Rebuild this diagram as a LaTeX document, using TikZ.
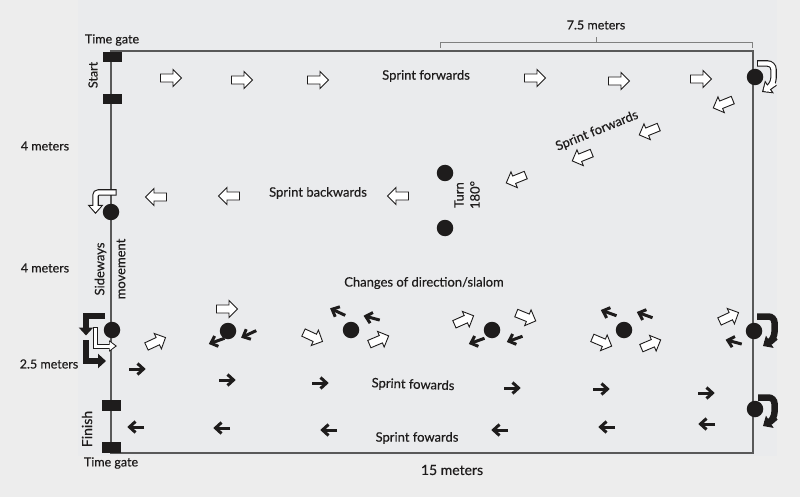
\documentclass[tikz,border=0pt]{standalone}
\usepackage{fontspec}
\setmainfont[FakeBold=0.35]{Lato}
\usetikzlibrary{arrows.meta}
\definecolor{bgout}{RGB}{237,237,237}
\definecolor{bgin}{RGB}{234,235,237}
\definecolor{ink}{RGB}{30,28,28}
\begin{document}
\begin{tikzpicture}[x=1pt,y=-1pt,
  lbl/.style={font=\fontsize{12.5}{15}\selectfont, text=ink, inner sep=0},
  cone/.style={circle, fill=ink, minimum size=16.5, inner sep=0},
  gate/.style={fill=ink, minimum width=19, minimum height=10.5, inner sep=0},
  frame/.style={draw=black!65, line width=1.1},
  oarrow/.pic={\draw[fill=white, draw=ink, line width=0.9, line join=miter]
     (-10.5,-4) -- (2,-4) -- (2,-8.5) -- (10.5,0) -- (2,8.5) -- (2,4) -- (-10.5,4) -- cycle;},
  barrow/.pic={\draw[draw=ink, line width=3] (-8,0) -- (5.5,0);
     \draw[draw=ink, line width=3, line join=miter] (0.5,-5.5) -- (6.5,0) -- (0.5,5.5);},
  bthick/.style={draw=ink, line width=6.5, -{Triangle[length=8,width=14]}},
  othick/.style={draw=ink, line width=6.5, -{Triangle[length=9,width=15]}},
  othin/.style={draw=white, line width=4.3, shorten >=1.8, shorten <=1, -{Triangle[length=6,width=10.5]}}
]
\useasboundingbox (0,0) rectangle (800,497);
\fill[bgout] (0,0) rectangle (800,497);
\fill[bgin] (78,0) rectangle (777,456);

% field
\draw[frame] (111,51) rectangle (753,453);
% 7.5 m bracket
\draw[draw=black!50, line width=1] (440,48) -- (440,43) -- (752,43) -- (752,48) (596,43) -- (596,37);

% gates
\node[gate] (g1) at (112.5,57) {};
\node[gate] (g2) at (112.5,99) {};
\node[gate] (g3) at (111.5,405.5) {};
\node[gate] (g4) at (111.5,447.5) {};

% cones
\node[cone] (k1) at (755,77) {};
\node[cone] (k2) at (445,173) {};
\node[cone] (k3) at (445,228) {};
\node[cone] (k4) at (111,212) {};
\node[cone] (k5) at (112,330) {};
\node[cone] (k6) at (228,331) {};
\node[cone] (k7) at (351,330) {};
\node[cone] (k8) at (492,330) {};
\node[cone] (k9) at (624,330) {};
\node[cone] (k10) at (754,331) {};
\node[cone] (k11) at (755,409) {};

% labels
\node[lbl] (t1) at (112,40) {Time gate};
\node[lbl] (t2) at (111,463) {Time gate};
\node[lbl, rotate=90] (t3) at (93,75) {Start};
\node[lbl, rotate=90, font=\fontsize{14}{16}\selectfont] (t4) at (87,429) {Finish};
\node[lbl] (t5) at (45,146) {4 meters};
\node[lbl] (t6) at (45,268) {4 meters};
\node[lbl] (t7) at (49,364) {2.5 meters};
\node[lbl] (t8) at (596,25) {7.5 meters};
\node[lbl, font=\fontsize{14}{16}\selectfont] (t9) at (452,470) {15 meters};
\node[lbl, font=\fontsize{13}{15}\selectfont] (t10) at (426,76) {Sprint forwards};
\node[lbl, rotate=22, font=\fontsize{13}{15}\selectfont] (t11) at (597,131) {Sprint forwards};
\node[lbl, font=\fontsize{13}{15}\selectfont] (t12) at (318,193) {Sprint backwards};
\node[lbl, rotate=90, align=center, font=\fontsize{13}{16}\selectfont] (t13) at (467,195) {Turn\\180°};
\node[lbl, rotate=90, align=center, font=\fontsize{13}{21}\selectfont] (t14) at (110,269) {Sideways\\movement};
\node[lbl, font=\fontsize{13}{15}\selectfont] (t15) at (424,283) {Changes of direction/slalom};
\node[lbl, rotate=-2, font=\fontsize{13}{15}\selectfont] (t16) at (413,385) {Sprint fowards};
\node[lbl, font=\fontsize{13}{15}\selectfont] (t17) at (417,438) {Sprint fowards};

% open block arrows
\foreach \x/\y/\a in {171/78/0, 242/80/0, 318/80/0, 535/78/0, 619/81/0, 701/79/0,
  723/104/202, 649/131/202, 582/157/202, 516/179/202,
  398/196/180, 229/196/180, 156/197/180,
  227/309/0, 156/342/25, 313/337/-25, 379/340/23, 464/320/24, 526/317/-22,
  602/342/-23, 651/344/23, 729/317/25}
  \pic[rotate=\a] at (\x,\y) {oarrow};

% black arrows
\foreach \x/\y/\a in {217/341/200, 249/334/205, 338/312/155, 372/318/165,
  477/341/200, 515/339/200, 609/313/160, 645/315/160, 734/342/165,
  137/369/0, 227/380/0, 320/383/0, 512/388/0, 601/389/0, 706/393/0,
  136/427/180, 222/428/180, 329/430/180, 500/430/180, 607/427/180, 707/424/180}
  \pic[rotate=\a] at (\x,\y) {barrow};

% turning arrows (open)
\draw[othick, rounded corners=6] (757,63.5) -- (773.5,63.5) -- (773.5,84) -- (770,86.5) -- (762,92);
\draw[othin, rounded corners=6] (757,63.5) -- (773.5,63.5) -- (773.5,84) -- (770,86.5) -- (762,92);
\draw[othick, rounded corners=3] (116.5,192.5) -- (95.5,192.5) -- (95.5,214);
\draw[othin, rounded corners=3] (116.5,192.5) -- (95.5,192.5) -- (95.5,214);

% black L-arrows at sideways cone
\draw[bthick] (105,316) -- (86,316) -- (86,335.5);
\draw[bthick] (86,340) -- (86,361) -- (106,361);
\draw[othick, line width=5, -{Triangle[length=8,width=11]}] (95,327) -- (95,346) -- (117,346);
\draw[othin, line width=3, -{Triangle[length=5.5,width=8]}] (95,327) -- (95,346) -- (117,346);

% black turning arrows right side
\draw[bthick, rounded corners=6] (757,316.5) -- (774.5,316.5) -- (774.5,338) -- (771,341) -- (763,346);
\draw[bthick, rounded corners=6] (758,397.5) -- (774.5,397.5) -- (774.5,418) -- (771,421) -- (763,426);
\end{tikzpicture}
\end{document}
